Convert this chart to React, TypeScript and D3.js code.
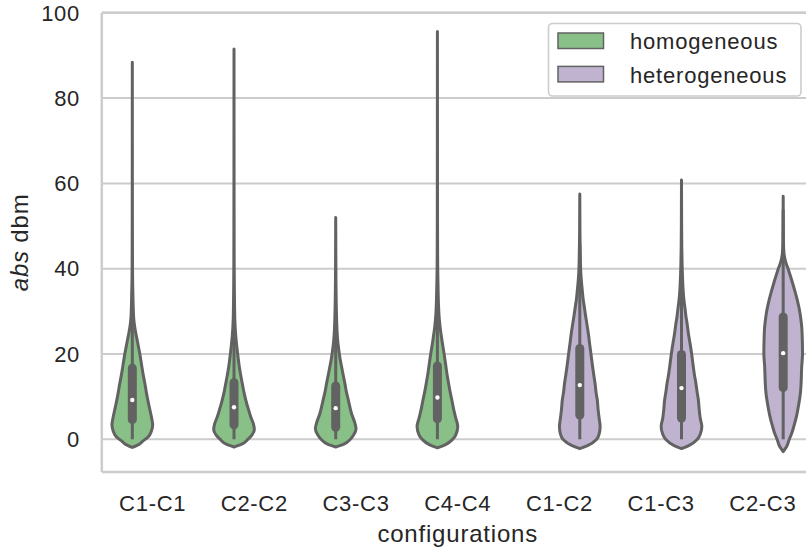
import React from "react";
import * as d3 from "d3";

// ---------- data ----------
const categories = ["C1-C1", "C2-C2", "C3-C3", "C4-C4", "C1-C2", "C1-C3", "C2-C3"];
const groups = ["homogeneous", "heterogeneous"];
const groupOf = [0, 0, 0, 0, 1, 1, 1];
const yTicks = [0, 20, 40, 60, 80, 100];

// box statistics
const q1 = [4.6, 3.4, 2.8, 4.8, 5.7, 5.0, 12.1];
const medians = [9.2, 7.5, 7.3, 9.8, 12.7, 12.0, 20.2];
const q3 = [16.7, 13.3, 12.5, 17.2, 21.3, 19.9, 28.7];
const whiskerLo = [0, 0, 0, 0, 0, 0, 0];
const whiskerHi = [34.9, 28.2, 28.3, 35.8, 45.7, 43.8, 53.8];

// density profiles: [value, relative half-width]
const profileC1C1: [number, number][] = [
  [-1.9, 0], [-1.2, 0.33], [-0.5, 0.5], [0.6, 0.79], [1.8, 0.93], [3.4, 1.0], [5, 0.95],
  [7, 0.86], [9, 0.77], [11, 0.69], [13, 0.62], [15, 0.54], [17, 0.47], [20, 0.37],
  [23, 0.25], [26, 0.13], [28, 0.075], [31, 0.045], [35, 0.025], [40, 0.01], [50, 0.005],
  [70, 0.002], [88.4, 0],
];
const profileC2C2: [number, number][] = [
  [-1.8, 0], [-1.2, 0.36], [0, 0.68], [1, 0.88], [2.3, 1.0], [3.5, 0.96], [5.3, 0.82],
  [7, 0.71], [9.2, 0.58], [11, 0.49], [13, 0.41], [15, 0.33], [17, 0.26], [20, 0.18],
  [22, 0.13], [24, 0.09], [26, 0.06], [28, 0.04], [32, 0.025], [36, 0.015], [42, 0.008],
  [55, 0.004], [70, 0.002], [91.5, 0],
];
const profileC3C3: [number, number][] = [
  [-1.8, 0], [-1.2, 0.38], [0, 0.72], [1, 0.88], [2.5, 1.0], [4, 0.93], [6, 0.78],
  [9.2, 0.62], [11, 0.53], [13.1, 0.45], [15, 0.37], [17, 0.29], [19, 0.21], [21, 0.15],
  [23, 0.1], [25, 0.07], [28, 0.045], [32, 0.025], [37, 0.012], [45, 0.005], [52, 0],
];
const profileC4C4: [number, number][] = [
  [-2, 0], [-1.3, 0.38], [0, 0.75], [1, 0.9], [3, 1.0], [5, 0.9], [7, 0.8], [9.2, 0.71],
  [11, 0.63], [13.1, 0.55], [15, 0.48], [17, 0.42], [20, 0.33], [23.3, 0.22], [26.4, 0.13],
  [29, 0.08], [32, 0.05], [36, 0.03], [40, 0.015], [50, 0.006], [70, 0.003], [95.6, 0],
];
const profileC1C2: [number, number][] = [
  [-2.2, 0], [-1.5, 0.38], [0, 0.83], [1.2, 0.95], [3, 1.0], [5, 0.95], [7, 0.9], [9.2, 0.86],
  [11, 0.8], [13.1, 0.75], [15, 0.69], [17, 0.63], [20, 0.55], [22.5, 0.48], [24.8, 0.42],
  [27, 0.35], [28.8, 0.29], [30.8, 0.23], [32.7, 0.17], [35, 0.12], [37, 0.08], [39, 0.05],
  [42, 0.03], [46, 0.015], [50, 0.007], [57.5, 0],
];
const profileC1C3: [number, number][] = [
  [-2.2, 0], [-1.5, 0.36], [0, 0.78], [1.3, 0.93], [3, 1.0], [5, 0.92], [7, 0.87], [9.2, 0.83],
  [11, 0.77], [13.1, 0.71], [15, 0.64], [17, 0.58], [20, 0.5], [22.5, 0.42], [24.8, 0.34],
  [27, 0.28], [28.8, 0.22], [30.8, 0.17], [32.7, 0.12], [35, 0.08], [38, 0.05], [41, 0.03],
  [45, 0.015], [50, 0.007], [60.8, 0],
];
const profileC2C3: [number, number][] = [
  [-2.9, 0], [-1.7, 0.17], [0, 0.3], [1.4, 0.42], [3, 0.52], [5.3, 0.65], [7, 0.72], [9.2, 0.8],
  [11, 0.85], [13.1, 0.88], [17, 0.91], [20, 0.95], [23.3, 0.94], [26.4, 0.91], [28.5, 0.86],
  [30.3, 0.8], [32.7, 0.69], [35, 0.56], [37.3, 0.42], [39.7, 0.26], [41.6, 0.12], [43.6, 0.04],
  [46, 0.015], [50, 0.007], [57, 0],
];
const profiles = [profileC1C1, profileC2C2, profileC3C3, profileC4C4, profileC1C2, profileC1C3, profileC2C3];

// ---------- styling ----------
const W = 806;
const H = 550;
const FONT = "'Liberation Sans', Arial, Helvetica, sans-serif";
const TEXT = "#262626";
const GRID = "#cccccc";
const EDGE = "#626262";
const fills = ["#88c088", "#bfb3cf"];
const LS = 0.7;

export default function App() {
  const x = d3.scaleLinear().domain([-0.5, 6.5]).range([101.8, 813.7]);
  const y = d3.scaleLinear().domain([-7.67, 100]).range([472, 12.8]);
  const unit = x(1) - x(0);
  const halfW = 0.2 * unit;
  const dodge = [-0.2, 0.2];

  const violins = categories.map((c, i) => {
    const cx = x(i + dodge[groupOf[i]]);
    const pts = [...profiles[i]].sort((a, b) => b[0] - a[0]);
    const area = d3
      .area<[number, number]>()
      .y((d) => y(d[0]))
      .x0((d) => cx - d[1] * halfW)
      .x1((d) => cx + d[1] * halfW)
      .curve(d3.curveMonotoneY);
    return { c, i, cx, path: area(pts) || "" };
  });

  const [x0, x1] = x.range();
  const [yb, yt] = y.range();

  return (
    <svg
      width={W}
      height={H}
      viewBox={`0 0 ${W} ${H}`}
      style={{ position: "absolute", left: 0, top: 0, display: "block", background: "#fff" }}
      fontFamily={FONT}
    >
      <rect x={0} y={0} width={W} height={H} fill="#fff" />
      {/* grid */}
      {yTicks.map((t) => (
        <line key={t} x1={x0} x2={x1} y1={y(t)} y2={y(t)} stroke={GRID} strokeWidth={2} />
      ))}
      {/* spines */}
      <line x1={x0} x2={x0} y1={yt} y2={yb} stroke={GRID} strokeWidth={2.5} />
      <line x1={x0} x2={x1} y1={yb} y2={yb} stroke={GRID} strokeWidth={2.5} />
      <line x1={x0} x2={x1} y1={yt} y2={yt} stroke={GRID} strokeWidth={2.5} />
      <line x1={x1} x2={x1} y1={yt} y2={yb} stroke={GRID} strokeWidth={2.5} />

      {/* violins */}
      {violins.map((v) => (
        <path
          key={v.c}
          d={v.path}
          fill={fills[groupOf[v.i]]}
          stroke={EDGE}
          strokeWidth={3}
          strokeLinejoin="round"
        />
      ))}
      {/* inner boxes */}
      {violins.map((v) => (
        <g key={"b" + v.c}>
          <line x1={v.cx} x2={v.cx} y1={y(whiskerLo[v.i])} y2={y(whiskerHi[v.i])} stroke={EDGE} strokeWidth={3} />
          <line
            x1={v.cx}
            x2={v.cx}
            y1={y(q1[v.i])}
            y2={y(q3[v.i])}
            stroke={EDGE}
            strokeWidth={9}
            strokeLinecap="round"
          />
          <circle cx={v.cx} cy={y(medians[v.i])} r={2.2} fill="#fff" />
        </g>
      ))}

      {/* y tick labels */}
      {yTicks.map((t) => (
        <text key={"yt" + t} x={80} y={y(t)} dy="0.35em" textAnchor="end" fontSize={22} letterSpacing={LS} fill={TEXT}>
          {t}
        </text>
      ))}
      {/* x tick labels */}
      {categories.map((c, i) => (
        <text key={"xt" + c} x={x(i)} y={511} textAnchor="middle" fontSize={22} letterSpacing={LS} fill={TEXT}>
          {c}
        </text>
      ))}
      {/* axis labels */}
      <text x={(x0 + x1) / 2} y={541.5} textAnchor="middle" fontSize={24} letterSpacing={0.8} fill={TEXT}>
        configurations
      </text>
      <text
        transform={`translate(28, ${(yt + yb) / 2}) rotate(-90)`}
        textAnchor="middle"
        fontSize={24}
        letterSpacing={0.8}
        fill={TEXT}
      >
        <tspan fontStyle="italic">abs</tspan>
        <tspan> dbm</tspan>
      </text>

      {/* legend */}
      <rect x={548.5} y={23.5} width={252.5} height={72.5} rx={4} fill="#fff" fillOpacity={0.8} stroke={GRID} strokeWidth={1.6} />
      {groups.map((g, k) => (
        <g key={g}>
          <rect x={558} y={33 + k * 33.4} width={45.5} height={15.5} fill={fills[k]} stroke={EDGE} strokeWidth={1.5} />
          <text x={630} y={49.3 + k * 33.4} fontSize={22} letterSpacing={0.8} fill={TEXT}>
            {g}
          </text>
        </g>
      ))}
    </svg>
  );
}
